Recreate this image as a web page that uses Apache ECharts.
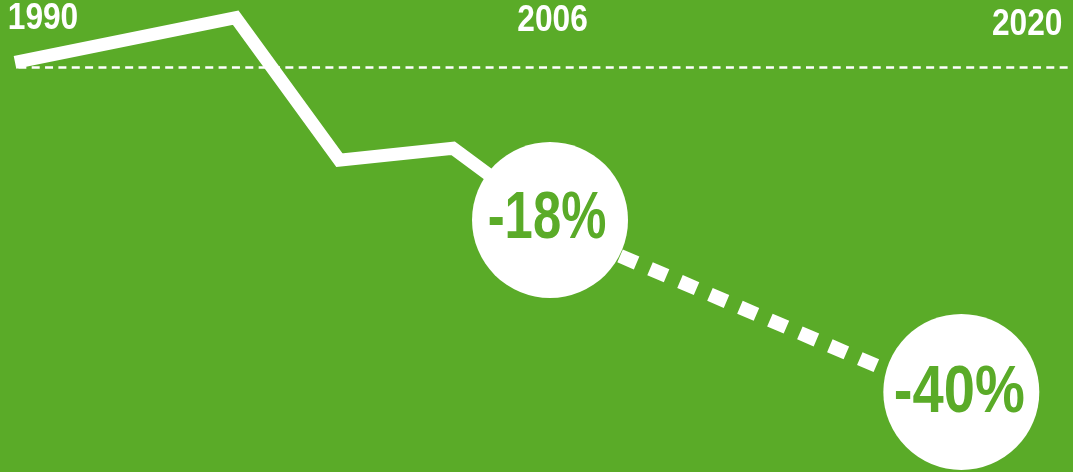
<!DOCTYPE html>
<html>
<head>
<meta charset="utf-8">
<script src="https://cdn.jsdelivr.net/npm/echarts@6/dist/echarts.min.js"></script>
<style>
html,body{margin:0;padding:0;background:#5aab28;}
#c{width:1073px;height:472px;}
</style>
</head>
<body>
<div id="c"></div>
<script>
// Data (x = year, y = % change vs 1990)
const pathYears = [1990, 1996.6, 1999.7, 2003.1, 2006];
const pathValues = [0.6, 5.9, -11.0, -9.6, -18.1];
const projYears = [2006, 2018.3];
const projValues = [-18.8, -39.7];
const markerYears = [2006, 2018.3];
const markerValues = [-18.1, -38.5];
const markerLabels = ['-18%', '-40%'];
const tickYears = [1990, 2006, 2020];
const tickLabels = ['1990', '2006', '2020'];
const tickRowValue = 5.5;
const baseline = 0;
const xMin = 1990, xMax = 2021.64;
const yMin = -48, yMax = 8;

const GREEN = '#5aab28';
const FONT = '"Liberation Sans", Arial, sans-serif';

const chart = echarts.init(document.getElementById('c'), null, {renderer: 'canvas'});

// styling for text placement (pixel offsets / horizontal condensing)
const tickOffset = [[28, -2], [2.5, 0.3], [9, 4.5]];
const tickScale = [0.88, 0.88, 0.88];
const markerOffset = [[-3, 0], [-2, 2]];
const markerScale = [0.77, 0.85];

function textSeries(years, values, labels, offsets, scales, size, color, z) {
  return {
    type: 'custom',
    data: years.map((y, i) => [y, values[i], i]),
    z: z,
    silent: true,
    renderItem: function (params, api) {
      const i = api.value(2);
      const p = api.coord([api.value(0), api.value(1)]);
      return {
        type: 'text',
        x: p[0] + offsets[i][0],
        y: p[1] + offsets[i][1],
        scaleX: scales[i],
        scaleY: 1,
        originX: 0,
        originY: 0,
        z2: 10,
        style: {
          text: labels[i],
          x: 0, y: 0,
          fill: color,
          font: 'bold ' + size + 'px ' + FONT,
          align: 'center',
          verticalAlign: 'middle'
        }
      };
    }
  };
}

chart.setOption({
  animation: false,
  backgroundColor: GREEN,
  grid: {left: 15, right: 0, top: 0, bottom: 0, containLabel: false},
  xAxis: {type: 'value', min: xMin, max: xMax, show: false},
  yAxis: {type: 'value', min: yMin, max: yMax, show: false},
  series: [
    {
      type: 'line',
      data: pathYears.map((y, i) => [y, pathValues[i]]),
      symbol: 'none',
      lineStyle: {color: '#fff', width: 13, join: 'miter', cap: 'butt'},
      z: 2,
      markLine: {
        silent: true,
        symbol: ['none', 'none'],
        label: {show: false},
        lineStyle: {color: '#fff', width: 2.5, type: [8, 5.35], dashOffset: 10},
        data: [{yAxis: baseline}]
      }
    },
    {
      type: 'line',
      data: projYears.map((y, i) => [y, projValues[i]]),
      symbol: 'none',
      lineStyle: {color: '#fff', width: 14, type: [18, 14.6], dashOffset: 21.6, cap: 'butt'},
      z: 2
    },
    {
      type: 'scatter',
      data: markerYears.map((y, i) => [y, markerValues[i]]),
      symbol: 'circle',
      symbolSize: 156,
      itemStyle: {color: '#fff', opacity: 1},
      z: 5
    },
    textSeries(markerYears, markerValues, markerLabels, markerOffset, markerScale, 66, GREEN, 8),
    textSeries(tickYears, tickYears.map(() => tickRowValue), tickLabels, tickOffset, tickScale, 36, '#fff', 8)
  ]
});
</script>
</body>
</html>
